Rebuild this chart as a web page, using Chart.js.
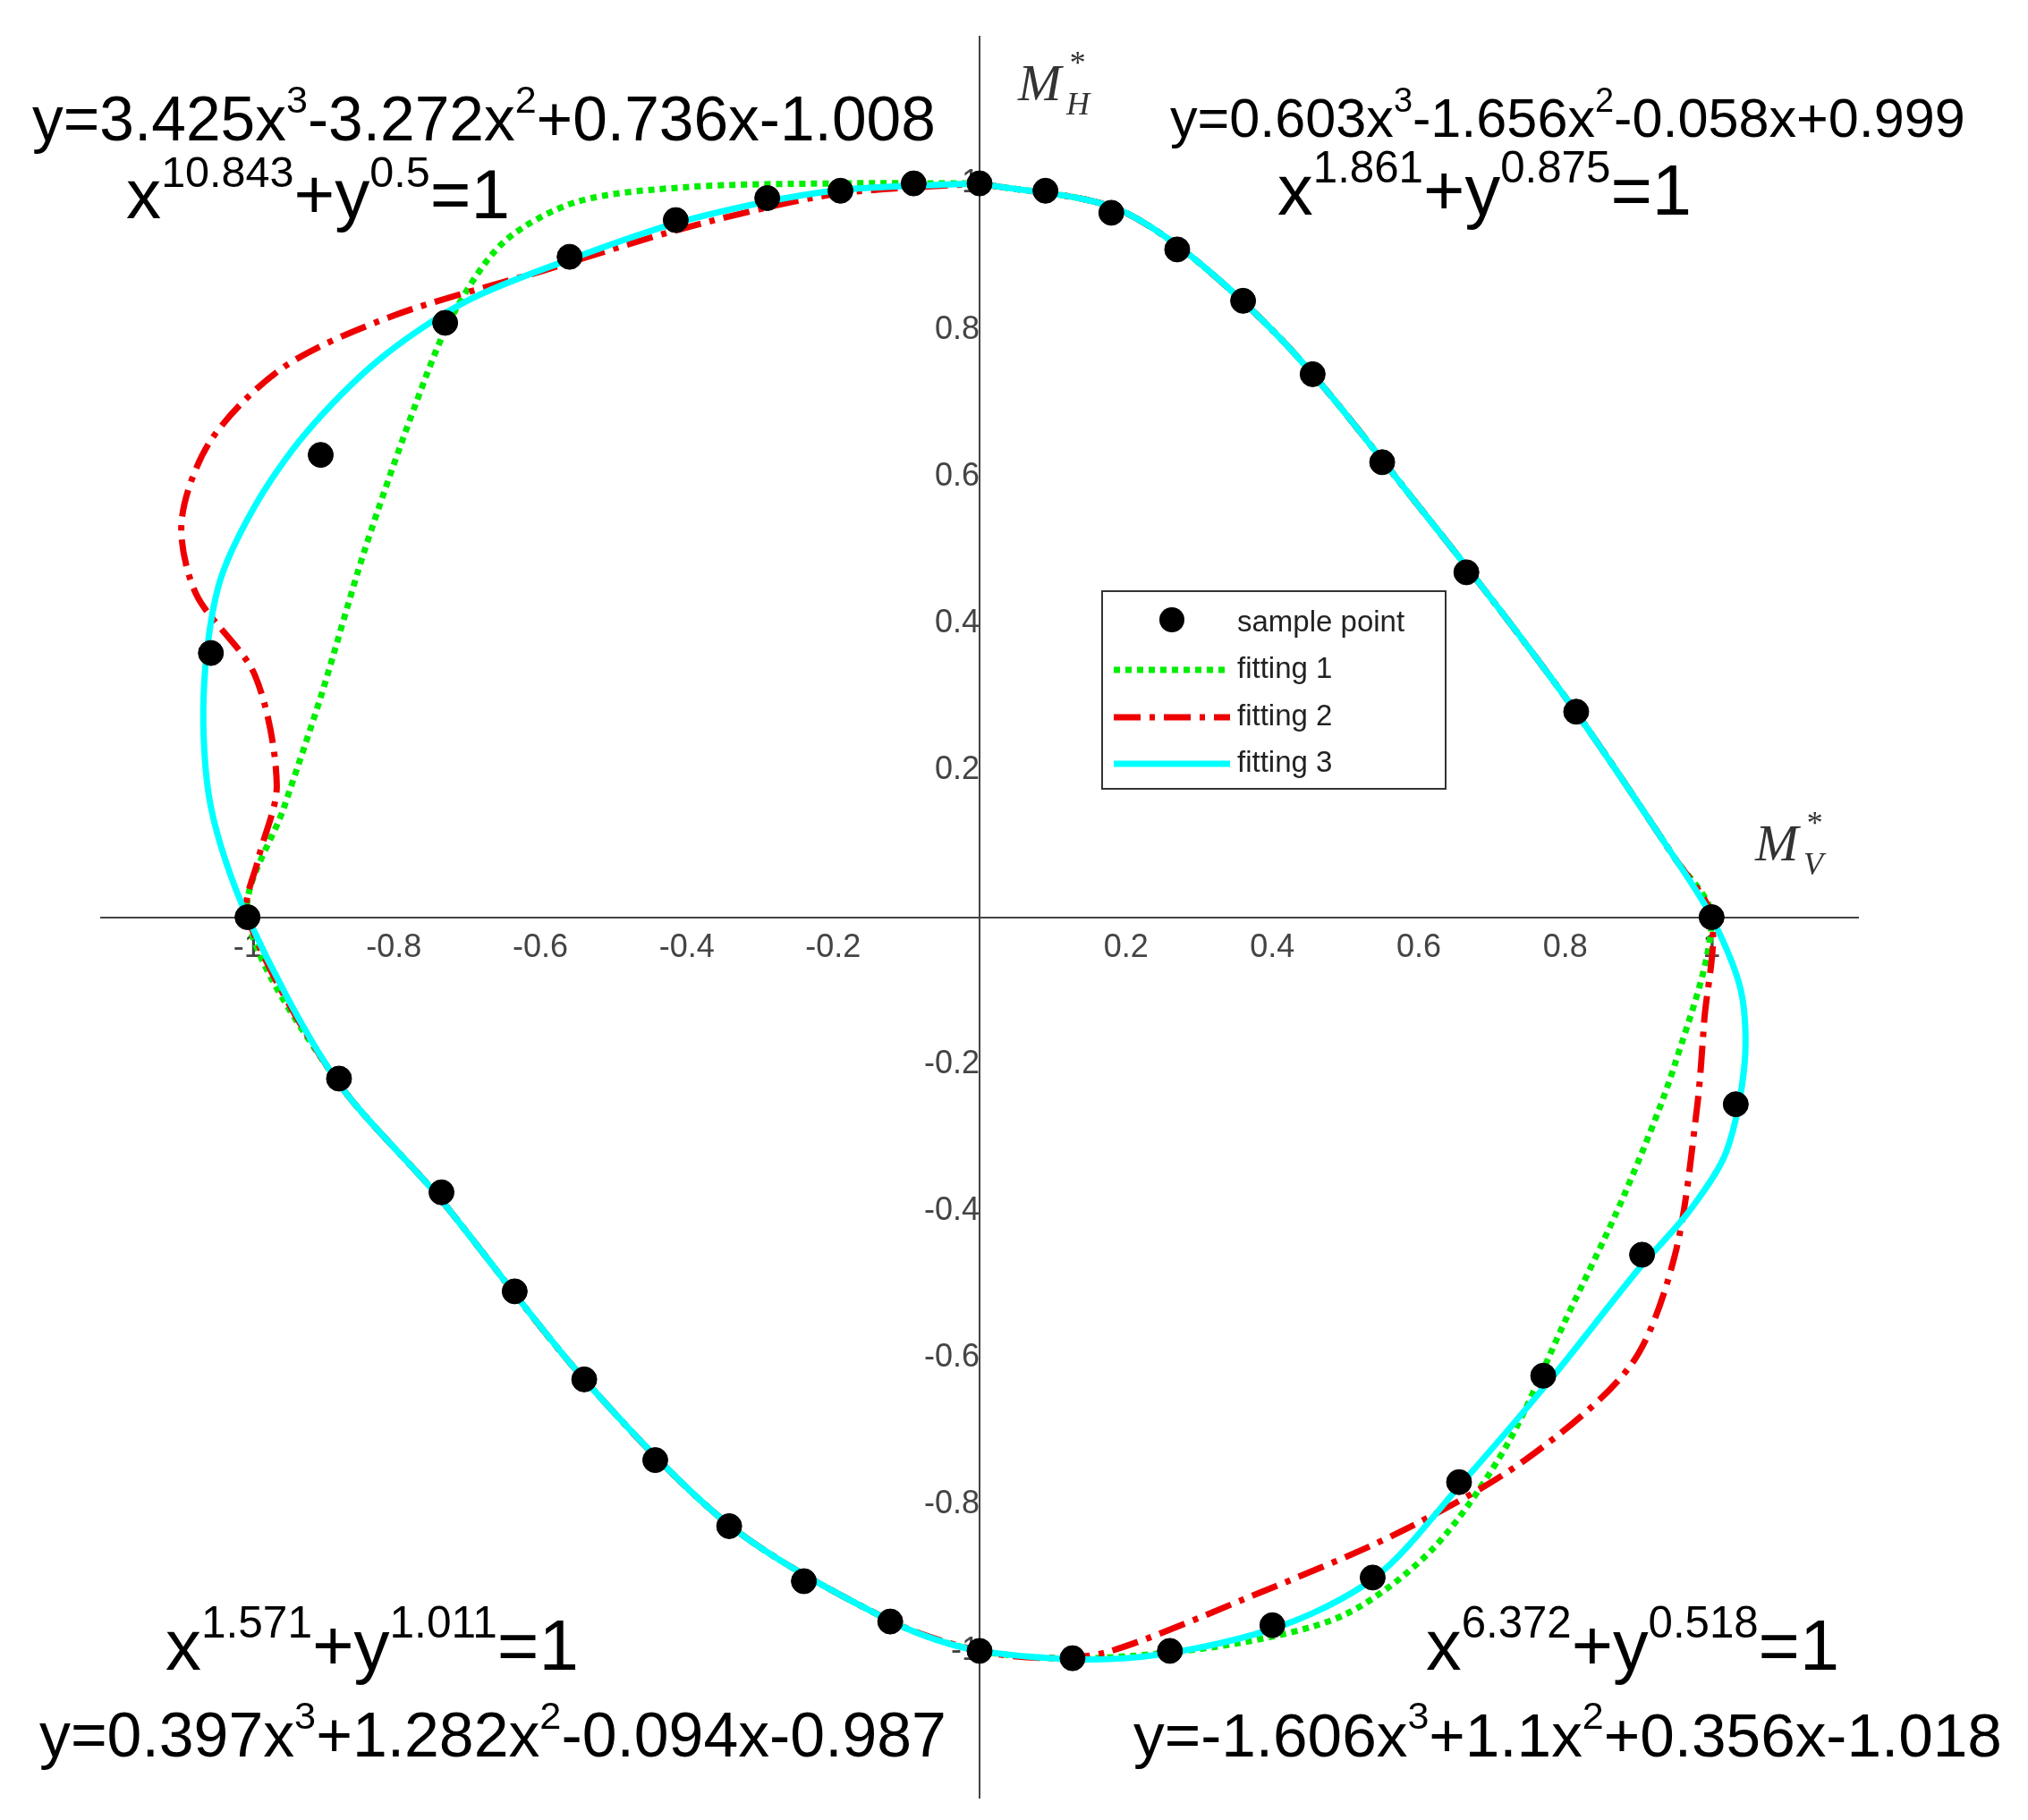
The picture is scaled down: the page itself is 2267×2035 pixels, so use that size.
<!DOCTYPE html>
<html><head><meta charset="utf-8">
<script src="https://cdn.jsdelivr.net/npm/chart.js@4"></script>
<style>html,body{margin:0;padding:0;background:#fff}#w{width:2267px;height:2035px}</style>
</head><body><div id="w"><canvas id="c"></canvas></div>
<script>
const xTicks=[-1,-0.8,-0.6,-0.4,-0.2,0.2,0.4,0.6,0.8,1];
const yTicks=[-1,-0.8,-0.6,-0.4,-0.2,0.2,0.4,0.6,0.8,1];
const sampleX=[0,0.09,0.18,0.27,0.36,0.455,0.55,0.665,0.815,1,1.033,0.905,0.77,0.655,0.537,0.40,0.26,0.127,0,-0.122,-0.24,-0.342,-0.443,-0.54,-0.635,-0.735,-0.875,-1,-1.05,-0.90,-0.73,-0.56,-0.415,-0.29,-0.19,-0.09];
const sampleY=[1,0.99,0.96,0.91,0.84,0.74,0.62,0.47,0.28,0,-0.255,-0.46,-0.625,-0.77,-0.90,-0.965,-1.0,-1.01,-1.0,-0.96,-0.905,-0.83,-0.74,-0.63,-0.51,-0.375,-0.22,0,0.36,0.63,0.81,0.90,0.95,0.98,0.99,1.0];
const fit1X=[0,0.2,0.4,0.6,0.8,0.95,1,0.95,0.88,0.8,0.72,0.62,0.5,0.35,0.15,0,-0.12,-0.34,-0.54,-0.74,-0.88,-1,-0.95,-0.9,-0.84,-0.77,-0.72,-0.65,-0.55,-0.4,-0.2,0];
const fit1Y=[1,0.96,0.8,0.56,0.3,0.08,0,-0.2,-0.38,-0.55,-0.72,-0.86,-0.95,-0.99,-1.01,-1,-0.96,-0.83,-0.63,-0.38,-0.22,0,0.15,0.3,0.5,0.7,0.82,0.92,0.975,0.995,1.0,1];
const fit2X=[0,0.2,0.4,0.6,0.8,0.95,1,0.99,0.98,0.95,0.89,0.745,0.57,0.36,0.18,0.1,0,-0.12,-0.34,-0.54,-0.74,-0.88,-1,-0.985,-0.96,-0.99,-1.07,-1.09,-1.05,-0.95,-0.8,-0.6,-0.4,-0.2,0];
const fit2Y=[1,0.96,0.8,0.56,0.3,0.08,0,-0.14,-0.26,-0.46,-0.61,-0.74,-0.84,-0.93,-1.0,-1.01,-1,-0.96,-0.83,-0.63,-0.38,-0.22,0,0.08,0.18,0.33,0.44,0.54,0.65,0.75,0.82,0.88,0.94,0.985,1];
const fit3X=[0,0.2,0.4,0.6,0.8,0.95,1,1.04,1.045,1.02,0.97,0.9,0.78,0.66,0.54,0.4,0.2,0,-0.12,-0.34,-0.54,-0.74,-0.88,-1,-1.05,-1.06,-1.04,-0.99,-0.92,-0.82,-0.7,-0.55,-0.4,-0.2,0];
const fit3Y=[1,0.96,0.8,0.56,0.3,0.08,0,-0.1,-0.2,-0.32,-0.4,-0.48,-0.63,-0.77,-0.9,-0.97,-1.01,-1,-0.96,-0.83,-0.63,-0.38,-0.22,0,0.15,0.3,0.45,0.56,0.66,0.76,0.84,0.9,0.95,0.99,1];
const legendLabels=['sample point','fitting 1','fitting 2','fitting 3'];
const pts=(xs,ys)=>xs.map((x,i)=>({x:x,y:ys[i]}));

const eqs=[
 {parts:['y=3.425x','3','-3.272x','2','+0.736x-1.008'],x:36,y:157,w:1010},
 {parts:['x','10.843','+y','0.5','=1'],x:141,y:244,w:429},
 {parts:['y=0.603x','3','-1.656x','2','-0.058x+0.999'],x:1308,y:153,w:889},
 {parts:['x','1.861','+y','0.875','=1'],x:1428,y:240,w:463},
 {parts:['x','1.571','+y','1.011','=1'],x:185,y:1867,w:462},
 {parts:['y=0.397x','3','+1.282x','2','-0.094x-0.987'],x:44,y:1964,w:1014},
 {parts:['x','6.372','+y','0.518','=1'],x:1594,y:1867,w:462},
 {parts:['y=-1.606x','3','+1.1x','2','+0.356x-1.018'],x:1267,y:1964,w:971}
];
function eqWidth(ctx,parts,s){let w=0;parts.forEach((p,i)=>{ctx.font=(i%2?0.62*s:s)+'px "Liberation Sans",Arial';w+=ctx.measureText(p).width;});return w;}
const deco={id:'deco',afterDraw(ch){
 const ctx=ch.ctx;ctx.save();ctx.fillStyle='#000';ctx.textBaseline='alphabetic';
 eqs.forEach(e=>{const s=60*e.w/eqWidth(ctx,e.parts,60);let x=e.x;
  e.parts.forEach((p,i)=>{const sup=i%2;ctx.font=(sup?0.62*s:s)+'px "Liberation Sans",Arial';ctx.fillText(p,x,sup?e.y-0.45*s:e.y);x+=ctx.measureText(p).width;});});
 ctx.fillStyle='#333';
 ctx.font='italic 58px "Liberation Serif","DejaVu Serif",serif';ctx.fillText('M',1138,112);ctx.font='italic 36px "Liberation Serif",serif';ctx.fillText('*',1194,82);ctx.fillText('H',1192,128);
 ctx.font='italic 58px "Liberation Serif","DejaVu Serif",serif';ctx.fillText('M',1962,962);ctx.font='italic 36px "Liberation Serif",serif';ctx.fillText('*',2018,932);ctx.fillText('V',2016,978);
 const lx=1232,ly=661,lw=384,lh=221;ctx.fillStyle='#fff';ctx.fillRect(lx,ly,lw,lh);ctx.strokeStyle='#333';ctx.lineWidth=2;ctx.strokeRect(lx,ly,lw,lh);
 ctx.font='33px "Liberation Sans",Arial';ctx.textBaseline='middle';
 const rows=[36,88,141,193];
 ctx.beginPath();ctx.fillStyle='#000';ctx.arc(1310,ly+rows[0]-4,14,0,7);ctx.fill();
 const st=[null,{c:'#00ee00',d:[7,6],w:7},{c:'#ee0000',d:[30,10,6,10],w:7},{c:'#00ffff',d:[],w:7}];
 for(let i=1;i<4;i++){ctx.beginPath();ctx.strokeStyle=st[i].c;ctx.lineWidth=st[i].w;ctx.setLineDash(st[i].d);ctx.moveTo(1245,ly+rows[i]);ctx.lineTo(1375,ly+rows[i]);ctx.stroke();}
 ctx.setLineDash([]);ctx.fillStyle='#222';
 for(let i=0;i<4;i++)ctx.fillText(legendLabels[i],1383,ly+rows[i]);
 ctx.restore();}};

const tickCb=(arr)=>function(v){return arr.some(t=>Math.abs(t-v)<1e-6)?String(Math.round(v*10)/10):'';};
new Chart(document.getElementById('c'),{type:'scatter',
 data:{datasets:[
  {data:pts(sampleX,sampleY),backgroundColor:'#000',borderColor:'#000',pointRadius:14,showLine:false,order:0},
  {data:pts(fit1X,fit1Y),showLine:true,borderColor:'#00ee00',borderWidth:7,borderDash:[7,6],pointRadius:0,tension:0.3,order:3},
  {data:pts(fit2X,fit2Y),showLine:true,borderColor:'#ee0000',borderWidth:7,borderDash:[30,10,6,10],pointRadius:0,tension:0.3,order:2},
  {data:pts(fit3X,fit3Y),showLine:true,borderColor:'#00ffff',borderWidth:7,pointRadius:0,tension:0.3,order:1}
 ]},
 options:{responsive:true,maintainAspectRatio:false,animation:false,
  layout:{padding:{left:113,right:190,top:41,bottom:25}},
  plugins:{legend:{display:false},tooltip:{enabled:false}},
  scales:{
   x:{type:'linear',position:{y:0},min:-1.2,max:1.2,grid:{display:false,tickLength:10},border:{color:'#444',width:2},
      ticks:{stepSize:0.2,callback:tickCb(xTicks),color:'#444',font:{size:36,family:'"Liberation Sans",Arial'},maxRotation:0,autoSkip:false}},
   y:{type:'linear',position:{x:0},min:-1.2,max:1.2,grid:{display:false,tickLength:10},border:{color:'#444',width:2},
      ticks:{stepSize:0.2,callback:tickCb(yTicks),color:'#444',font:{size:36,family:'"Liberation Sans",Arial'},autoSkip:false}}
  }},
 plugins:[deco]});
</script></body></html>
